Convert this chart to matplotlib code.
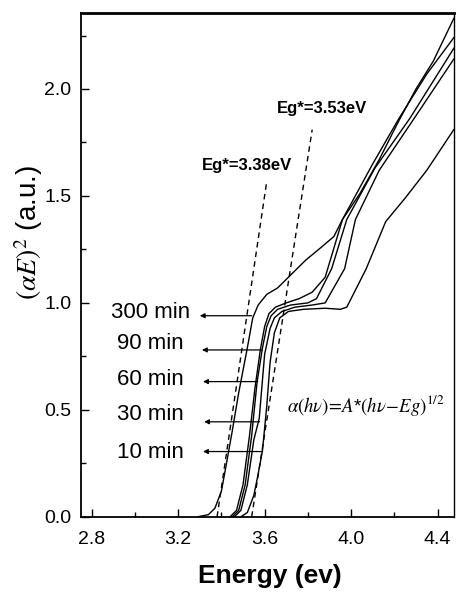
import numpy as np
import matplotlib
matplotlib.use("Agg")
import matplotlib.pyplot as plt

plt.rcParams.update({
    "font.family": ["Liberation Sans", "DejaVu Sans"],
    "mathtext.fontset": "stix",
    "xtick.direction": "in",
    "ytick.direction": "in",
})

# curves: energy (eV) and (alpha E)^2 (a.u.)
e_300 = [3.29, 3.34, 3.37, 3.40, 3.42, 3.45, 3.48, 3.52, 3.545, 3.57, 3.61, 3.66, 3.72,
         3.79, 3.85, 3.92, 3.96, 4.04, 4.13, 4.22, 4.30, 4.38, 4.475]
a_300 = [0.0, 0.01, 0.04, 0.12, 0.23, 0.40, 0.58, 0.79, 0.93, 0.99, 1.04, 1.07, 1.13,
         1.20, 1.25, 1.31, 1.39, 1.51, 1.67, 1.85, 2.00, 2.13, 2.33]

e_90 = [3.44, 3.47, 3.50, 3.53, 3.555, 3.58, 3.60, 3.62, 3.65, 3.70, 3.76, 3.82, 3.88,
        3.96, 4.10, 4.22, 4.35, 4.475]
a_90 = [0.0, 0.03, 0.15, 0.38, 0.60, 0.78, 0.89, 0.95, 0.98, 1.00, 1.02, 1.05, 1.12,
        1.39, 1.65, 1.86, 2.07, 2.24]

e_60 = [3.45, 3.48, 3.51, 3.54, 3.565, 3.59, 3.61, 3.63, 3.66, 3.72, 3.80, 3.84, 3.91,
        3.98, 4.11, 4.27, 4.475]
a_60 = [0.0, 0.03, 0.15, 0.38, 0.63, 0.79, 0.89, 0.94, 0.97, 0.99, 1.00, 1.02, 1.16,
        1.39, 1.63, 1.86, 2.19]

e_30 = [3.46, 3.49, 3.52, 3.55, 3.575, 3.60, 3.625, 3.645, 3.68, 3.74, 3.82, 3.88, 3.97,
        4.02, 4.13, 4.29, 4.475]
a_30 = [0.0, 0.03, 0.15, 0.36, 0.46, 0.76, 0.88, 0.93, 0.96, 0.98, 0.99, 1.00, 1.16,
        1.39, 1.62, 1.86, 2.14]

e_10 = [3.49, 3.52, 3.55, 3.57, 3.59, 3.61, 3.625, 3.645, 3.67, 3.71, 3.78, 3.88, 3.95,
        3.98, 4.07, 4.16, 4.25, 4.35, 4.475]
a_10 = [0.0, 0.02, 0.10, 0.20, 0.31, 0.52, 0.72, 0.86, 0.93, 0.96, 0.97, 0.975, 0.97,
        0.98, 1.16, 1.38, 1.49, 1.62, 1.81]

# tangent lines giving the two gap values
tan_338_e = [3.38, 3.61]
tan_338_a = [0.0, 1.57]
tan_353_e = [3.54, 3.82]
tan_353_a = [0.0, 1.81]

labels = ["300 min", "90 min", "60 min", "30 min", "10 min"]
label_y = [0.953, 0.81, 0.64, 0.48, 0.30]
arrow_y = [0.94, 0.78, 0.632, 0.444, 0.305]
arrow_from = [3.54, 3.59, 3.568, 3.577, 3.59]
arrow_to = [3.30, 3.31, 3.315, 3.32, 3.315]

fig = plt.figure(figsize=(4.57, 5.94), dpi=100)
ax = fig.add_axes([0.177, 0.130, 0.816, 0.848])

for e, a in [(e_300, a_300), (e_90, a_90), (e_60, a_60), (e_30, a_30), (e_10, a_10)]:
    ax.plot(e, a, color="black", lw=1.0)

ax.plot(tan_338_e, tan_338_a, color="black", lw=1.0, ls=(0, (4, 3)))
ax.plot(tan_353_e, tan_353_a, color="black", lw=1.0, ls=(0, (4, 3)))

for lab, ly, ay, x0, x1 in zip(labels, label_y, arrow_y, arrow_from, arrow_to):
    ax.text(3.073, ly, lab, ha="center", va="center", fontsize=16)
    ax.annotate("", xy=(x1, ay), xytext=(x0, ay),
                arrowprops=dict(arrowstyle="-|>", color="black", lw=0.9,
                                mutation_scale=7, shrinkA=0, shrinkB=0))

ax.text(3.517, 1.64, "Eg*=3.38eV", ha="center", va="center", fontsize=12, fontweight="bold")
ax.text(3.864, 1.91, "Eg*=3.53eV", ha="center", va="center", fontsize=12, fontweight="bold")
ax.text(4.07, 0.52, r"$\alpha(h\nu)\!=\!A$*$(h\nu\!-\!Eg)^{1/2}$", ha="center", va="center",
        fontsize=13.5)

ax.set_xlim(2.75, 4.475)
ax.set_ylim(0, 2.355)
ax.set_xticks([2.8, 3.2, 3.6, 4.0, 4.4])
ax.set_xticks(np.arange(3.0, 4.41, 0.4), minor=True)
ax.set_yticks([0.0, 0.5, 1.0, 1.5, 2.0])
ax.set_yticks([0.25, 0.75, 1.25, 1.75, 2.25], minor=True)
ax.tick_params(which="major", length=6, width=1.0, labelsize=14)
ax.tick_params(which="minor", length=3.5, width=1.0)
ax.tick_params(axis="x", pad=10)
ax.tick_params(axis="y", pad=7)
ax.spines["top"].set_linewidth(2.0)
ax.spines["left"].set_linewidth(1.3)
ax.spines["bottom"].set_linewidth(1.3)
ax.spines["right"].set_linewidth(1.0)

fig.text(0.59, 0.030, "Energy (ev)", ha="center", va="center", fontsize=19, fontweight="bold")
fig.text(0.062, 0.608, r"$(\alpha E)^2$ (a.u.)", ha="center", va="center", rotation=90, fontsize=20)

fig.savefig("out.png", dpi=100)
